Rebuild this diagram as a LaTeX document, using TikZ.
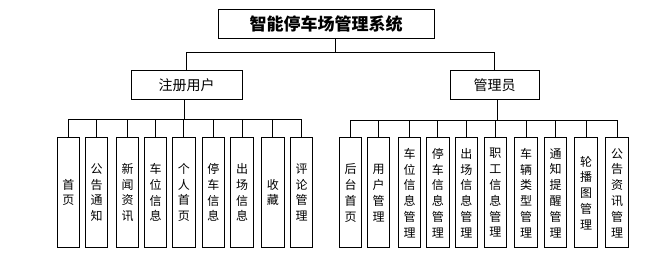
\documentclass[tikz,border=0pt]{standalone}
\usepackage{fontspec}
\setmainfont{Noto Sans CJK SC}
\begin{document}
\begin{tikzpicture}[x=1pt,y=-1pt,line width=1pt,
  box/.style={draw,rectangle,inner sep=0pt,align=center},
  leafbox/.style={box,minimum width=22.5pt,minimum height=110pt,
    font=\fontsize{12}{15.8}\selectfont}]
            \useasboundingbox (0,0) rectangle (654,259);

            % top level
            \node[box,minimum width=216pt,minimum height=29pt,
              font=\fontsize{17}{20}\selectfont\bfseries] (sys) at (326,24.5) {智能停车场管理系统};

            % second level
            \node[box,minimum width=111pt,minimum height=29pt,
              font=\fontsize{14}{16}\selectfont] (user) at (186.5,85.5) {注册用户};
            \node[box,minimum width=89pt,minimum height=29pt,
              font=\fontsize{14}{16}\selectfont] (admin) at (494.5,85.5) {管理员};

            \coordinate (busTop) at (335,53);
            \coordinate (busUser) at (184,120);
            \coordinate (busAdmin) at (497,120.5);

            \draw ([xshift=9pt]sys.south) -- (busTop);
            \draw (busTop) -| (user.north);
            \draw (busTop) -| (admin.north);

            % user modules
            \foreach \i/\x/\txt in {
            1/68.3/首\\页,
            2/96.7/公\\告\\通\\知,
            3/127.5/新\\闻\\资\\讯,
            4/155.5/车\\位\\信\\息,
            5/183.8/个\\人\\首\\页,
            6/213.3/停\\车\\信\\息,
            7/242.2/出\\场\\信\\息,
            8/272.8/收\\藏,
            9/301.7/评\\论\\管\\理
            }
            {
                \node[leafbox] (u\i) at (\x,192.5) {\txt};
                \draw (u\i.north |- busUser) -- (u\i.north);
            }
            \draw (busUser |- user.south) -- (busUser);
            \draw (u1.north |- busUser) -- (u9.north |- busUser);

            % admin modules
            \foreach \i/\x/\txt in {
            1/350.5/后\\台\\首\\页,
            2/378.7/用\\户\\管\\理,
            3/409.5/车\\位\\信\\息\\管\\理,
            4/437.8/停\\车\\信\\息\\管\\理,
            5/466.3/出\\场\\信\\息\\管\\理,
            6/495.3/职\\工\\信\\息\\管\\理,
            7/526.2/车\\辆\\类\\型\\管\\理,
            8/555.5/通\\知\\提\\醒\\管\\理,
            9/586.2/轮\\播\\图\\管\\理,
            10/617.2/公\\告\\资\\讯\\管\\理
            }
            {
                \node[leafbox] (a\i) at (\x,193) {\txt};
                \draw (a\i.north |- busAdmin) -- (a\i.north);
            }
            \draw (busAdmin |- admin.south) -- (busAdmin);
            \draw (a1.north |- busAdmin) -- (a10.north |- busAdmin);
        \end{tikzpicture}
\end{document}
